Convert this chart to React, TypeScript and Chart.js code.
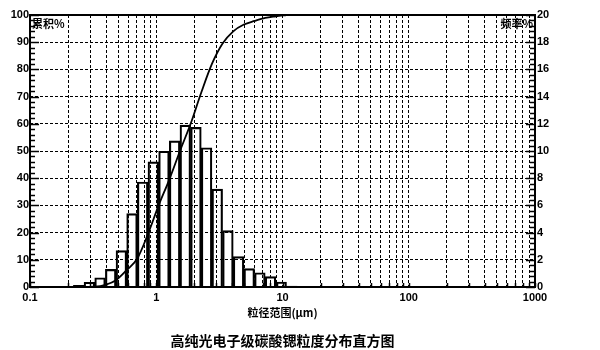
import { useEffect, useRef } from 'react';
import { Chart, registerables } from 'chart.js';

Chart.register(...registerables);

// Histogram bins (geometric centres, µm) and frequency %
const BIN_CENTERS = [0.2432, 0.2954, 0.3588, 0.4357, 0.5292, 0.6427, 0.7806, 0.948, 1.1514, 1.3983, 1.6983, 2.0626, 2.505, 3.0423, 3.695, 4.4875, 5.45, 6.619, 8.039, 9.763, 11.857];
const FREQUENCY = [0.13, 0.35, 0.68, 1.3, 2.67, 5.39, 7.72, 9.2, 9.98, 10.74, 11.9, 11.74, 10.24, 7.2, 4.14, 2.23, 1.35, 1.05, 0.76, 0.37, 0.07];

// Cumulative curve (bin upper edges, µm) and cumulative %
const CUM_X = [0.2207, 0.268, 0.3255, 0.3954, 0.4802, 0.5832, 0.7083, 0.8602, 1.0447, 1.2688, 1.541, 1.8715, 2.273, 2.7605, 3.3527, 4.0718, 4.945, 6.006, 7.294, 8.859, 10.759];
const CUMULATIVE = [0, 0, 0.1, 0.8, 2.5, 6.2, 10.5, 19.5, 30, 39.5, 50, 60, 71.5, 82, 89.5, 94, 96.5, 97.8, 98.9, 99.5, 100];

// Axis ticks
const X_GRID_TICKS = [
  0.1, 0.2, 0.3, 0.4, 0.5, 0.6, 0.7, 0.8, 0.9,
  1, 2, 3, 4, 5, 6, 7, 8, 9,
  10, 20, 30, 40, 50, 60, 70, 80, 90,
  100, 200, 300, 400, 500, 600, 700, 800, 900,
  1000,
];
const X_LABELS = [0.1, 1, 10, 100, 1000];

const LEFT_TITLE = '累积%';
const RIGHT_TITLE = '频率%';
const X_TITLE = '粒径范围(μm)';
const CHART_TITLE = '高纯光电子级碳酸锶粒度分布直方图';

const framePlugin = {
  id: 'frame',
  afterDatasetsDraw(chart: any) {
    const { ctx, chartArea, scales } = chart;
    const { left, right, top, bottom } = chartArea;
    ctx.save();
    ctx.strokeStyle = '#000';
    ctx.setLineDash([]);
    ctx.lineWidth = 1.5;
    const y = scales.y;
    for (let v = 0; v <= 100; v += 2) {
      const py = Math.round(y.getPixelForValue(v)) + 0.5;
      const len = v % 10 === 0 ? 9 : 5;
      ctx.beginPath();
      ctx.moveTo(left, py);
      ctx.lineTo(left + len, py);
      ctx.stroke();
    }
    const y2 = scales.y2;
    for (let i = 0; i <= 50; i++) {
      const py = Math.round(y2.getPixelForValue(i * 0.4)) + 0.5;
      const len = i % 5 === 0 ? 9 : 5;
      ctx.beginPath();
      ctx.moveTo(right, py);
      ctx.lineTo(right - len, py);
      ctx.stroke();
    }
    const x = scales.x;
    x.ticks.forEach((t: any) => {
      const px = Math.round(x.getPixelForValue(t.value)) + 0.5;
      ctx.beginPath();
      ctx.moveTo(px, bottom);
      ctx.lineTo(px, bottom - 4);
      ctx.stroke();
    });
    ctx.lineWidth = 2;
    ctx.strokeRect(left, top, right - left, bottom - top);
    ctx.fillStyle = '#000';
    ctx.font = 'bold 11px "Noto Sans CJK SC"';
    ctx.textBaseline = 'middle';
    ctx.textAlign = 'left';
    ctx.fillText(LEFT_TITLE, left + 2, top + 9);
    ctx.textAlign = 'right';
    ctx.fillText(RIGHT_TITLE, right - 2, top + 9);
    ctx.restore();
  },
};

export default function App() {
  const ref = useRef<HTMLCanvasElement | null>(null);

  useEffect(() => {
    if (!ref.current) return;
    Chart.defaults.color = '#000';
    Chart.defaults.font.family = '"Liberation Sans", Arial, sans-serif';
    const tickFont = { family: '"Liberation Sans", Arial, sans-serif', size: 11, weight: 'bold' as const };

    const chart = new Chart(ref.current, {
      type: 'bar',
      data: {
        datasets: [
          {
            type: 'line' as const,
            label: 'cumulative',
            data: CUM_X.map((v, i) => ({ x: v, y: CUMULATIVE[i] })),
            yAxisID: 'y',
            borderColor: '#000',
            borderWidth: 1.8,
            pointRadius: 0,
            cubicInterpolationMode: 'monotone' as const,
            fill: false,
            order: 0,
          },
          {
            type: 'bar' as const,
            label: 'frequency',
            data: BIN_CENTERS.map((v, i) => ({ x: v, y: FREQUENCY[i] })) as any,
            yAxisID: 'y2',
            backgroundColor: 'rgba(0,0,0,0)',
            borderColor: '#000',
            borderWidth: 1.5,
            barThickness: 'flex' as const,
            barPercentage: 1,
            categoryPercentage: 1,
            order: 1,
          },
        ],
      },
      options: {
        responsive: false,
        animation: false,
        layout: { padding: { top: 15, left: 0, right: 0, bottom: 0 } },
        plugins: {
          legend: { display: false },
          tooltip: { enabled: false },
          title: {
            display: true,
            text: CHART_TITLE,
            position: 'bottom',
            fullSize: false,
            color: '#000',
            font: { family: '"Noto Sans CJK SC"', size: 14, weight: 'bold' },
            padding: { top: 7, bottom: 1 },
          },
        },
        scales: {
          x: {
            type: 'logarithmic',
            min: 0.1,
            max: 1000,
            offset: false,
            afterBuildTicks: (axis: any) => {
              axis.ticks = X_GRID_TICKS.map((value) => ({ value, major: X_LABELS.includes(value) }));
            },
            afterFit: (axis: any) => {
              axis.height = 38.2;
            },
            grid: { color: '#000', lineWidth: 1, drawTicks: false, offset: false },
            border: { display: false, dash: [3, 2] },
            ticks: {
              autoSkip: false,
              maxRotation: 0,
              padding: 4,
              font: tickFont,
              color: '#000',
              callback: (value: any) => (X_LABELS.includes(Number(value)) ? String(value) : ''),
            },
            title: {
              display: true,
              text: X_TITLE,
              color: '#000',
              font: { family: '"Noto Sans CJK SC"', size: 11, weight: 'bold' },
              padding: { top: 0, bottom: 5.6 },
            },
          },
          y: {
            type: 'linear',
            position: 'left',
            min: 0,
            max: 100,
            afterFit: (axis: any) => {
              axis.width = 30;
            },
            grid: { color: '#000', lineWidth: 1, drawTicks: false },
            border: { display: false, dash: [3, 2] },
            ticks: { stepSize: 10, padding: 1, font: tickFont, color: '#000' },
          },
          y2: {
            type: 'linear',
            position: 'right',
            min: 0,
            max: 20,
            afterFit: (axis: any) => {
              axis.width = 65;
            },
            grid: { drawOnChartArea: false, drawTicks: false },
            border: { display: false },
            ticks: { stepSize: 2, padding: 2, font: tickFont, color: '#000' },
          },
        },
      } as any,
      plugins: [framePlugin],
    });
    return () => chart.destroy();
  }, []);

  return (
    <div style={{ position: 'fixed', left: 0, top: 0, width: 600, height: 350, background: '#fff' }}>
      <canvas ref={ref} width={600} height={350} />
    </div>
  );
}
